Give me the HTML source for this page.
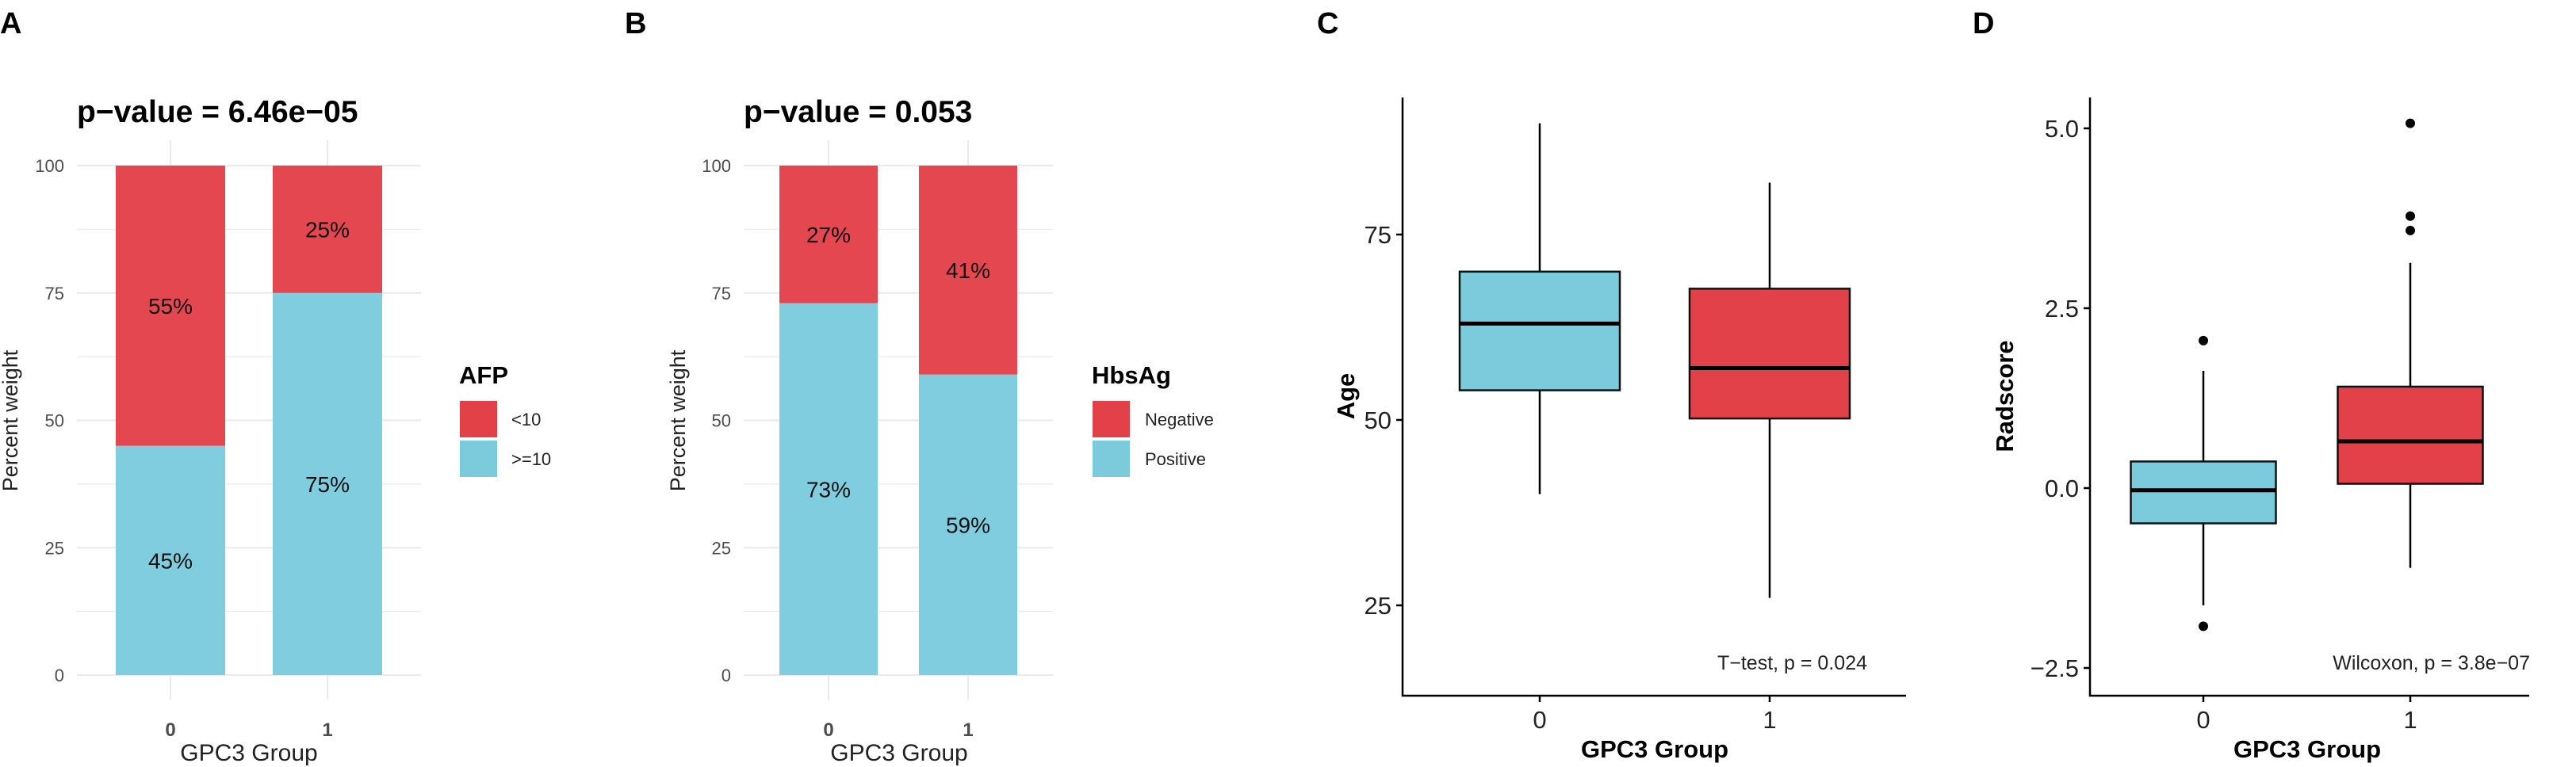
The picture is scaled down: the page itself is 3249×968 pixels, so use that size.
<!DOCTYPE html>
<html><head><meta charset="utf-8"><style>
html,body{margin:0;padding:0;background:#fff;}
svg{display:block;font-family:"Liberation Sans",Arial,sans-serif;}
</style></head><body>
<svg id="fig" width="3249" height="968" viewBox="0 0 3249 968" xmlns="http://www.w3.org/2000/svg">
<g id="root"></g>
</svg>
<script>
// Panel A data
const aCategories = ["0","1"];
const aLow = [55, 25];      // <10
const aHigh = [45, 75];     // >=10
const aLegend = ["<10", ">=10"];
// Panel B data
const bCategories = ["0","1"];
const bNeg = [27, 41];
const bPos = [73, 59];
const bLegend = ["Negative", "Positive"];
const pctTicks = [0, 25, 50, 75, 100];
// Panel C data (box stats: lower whisker, q1, median, q3, upper whisker)
const cCategories = ["0","1"];
const cLowerWhisker = [40, 26];
const cQ1 = [54, 50.2];
const cMedian = [63, 57];
const cQ3 = [70, 67.7];
const cUpperWhisker = [90, 82];
const cTicks = [25, 50, 75];
// Panel D data
const dCategories = ["0","1"];
const dLowerWhisker = [-1.63, -1.11];
const dQ1 = [-0.49, 0.06];
const dMedian = [-0.03, 0.65];
const dQ3 = [0.37, 1.41];
const dUpperWhisker = [1.63, 3.13];
const dOutliers0 = [2.05, -1.92];
const dOutliers1 = [5.07, 3.78, 3.58];
const dTicks = [-2.5, 0.0, 2.5, 5.0];

const RED = "#E3414A", BLUE = "#7BCBDD";
const NS = "http://www.w3.org/2000/svg";
const root = document.getElementById("root");
function el(tag, attrs, parent, text){
  const e = document.createElementNS(NS, tag);
  for (const k in attrs) e.setAttribute(k, attrs[k]);
  if (text !== undefined) e.textContent = text;
  (parent || root).appendChild(e);
  return e;
}

function stackedPanel(o){
  const g = el("g", {});
  
  
  const y = v => o.y0 + (o.y100 - o.y0) * v / 100;
  const x = i => o.centers[i];
  const lbl = el("text", {x:o.labelX, y:42, "font-size":38, "font-weight":"bold"}, g, o.label);
  
  
  const t = el("text", {x:o.gridL, y:154, "font-size":39, "font-weight":"bold"}, g, o.title);
  
  
  // grid
  for (let v = 0; v <= 100; v += 12.5){
    const ln = el("line", {x1:o.gridL, x2:o.gridR, y1:y(v), y2:y(v), stroke:"#ebebeb", "stroke-width": v%25===0?2.2:1.2}, g);
    
    
  }
  o.cats.forEach((c,i)=>{
    const ln = el("line", {x1:x(i), x2:x(i), y1:177, y2:883, stroke:"#ebebeb", "stroke-width":2.2}, g);
    
    
  });
  pctTicks.forEach(v=>{
    const tk = el("text", {x:o.tickR, y:y(v)+8, "font-size":22, fill:"#4d4d4d", "text-anchor":"end"}, g, String(v));
    
    
  });
  o.cats.forEach((c,i)=>{
    const bot = o.bottom[i], top = o.top[i];
    const r1 = el("rect", {x:x(i)-o.bw/2, y:y(bot), width:o.bw, height:y(0)-y(bot), fill:BLUE, "fill-opacity":0.97}, g);
    
    
    const r2 = el("rect", {x:x(i)-o.bw/2, y:y(bot+top), width:o.bw, height:y(bot)-y(bot+top), fill:RED, "fill-opacity":0.97}, g);
    
    
    const l1 = el("text", {x:x(i), y:y(bot/2)+10, "font-size":28, "text-anchor":"middle", fill:"#111"}, g, bot+"%");
    
    
    const l2 = el("text", {x:x(i), y:y(bot+top/2)+10, "font-size":28, "text-anchor":"middle", fill:"#111"}, g, top+"%");
    
    
    const xt = el("text", {x:x(i), y:929, "font-size":24, "font-weight":"bold", fill:"#4d4d4d", "text-anchor":"middle"}, g, c);
    
    
  });
  const xtitle = el("text", {x:o.xTitleX, y:960, "font-size":30, fill:"#222", "text-anchor":"middle"}, g, "GPC3 Group");
  
  
  const ytitle = el("text", {x:0, y:0, "font-size":27, fill:"#222", "text-anchor":"middle", transform:`translate(${o.yTitleX},531) rotate(-90)`}, g, "Percent weight");
  
  
  const lt = el("text", {x:o.legX, y:484, "font-size":31, "font-weight":"bold"}, g, o.legTitle);
  
  
  [RED, BLUE].forEach((col,k)=>{
    const kr = el("rect", {x:o.legX+1, y:506+k*50, width:47, height:46, fill:col}, g);
    
    
    const kt = el("text", {x:o.legLabelX, y:537+k*50, "font-size":22, fill:"#222"}, g, o.legend[k]);
    
    
  });
}

stackedPanel({name:"panel-a", label:"A", labelX:0, title:"p\u2212value = 6.46e\u221205",
  gridL:97, gridR:531, y0:852, y100:209, centers:[215,413], bw:138, cats:aCategories,
  bottom:aHigh, top:aLow, tickR:81, xTitleX:314, yTitleX:22, legX:579, legLabelX:645,
  legTitle:"AFP", legend:aLegend});
stackedPanel({name:"panel-b", label:"B", labelX:788, title:"p\u2212value = 0.053",
  gridL:938, gridR:1328, y0:852, y100:209, centers:[1045,1221], bw:124, cats:bCategories,
  bottom:bPos, top:bNeg, tickR:922, xTitleX:1134, yTitleX:864, legX:1377, legLabelX:1444,
  legTitle:"HbsAg", legend:bLegend});

function boxPanel(o){
  const g = el("g", {});
  
  
  const y = v => o.refY + (v - o.refV) * o.ppu * -1;
  const lbl = el("text", {x:o.labelX, y:42, "font-size":38, "font-weight":"bold"}, g, o.label);
  
  
  const ax = el("path", {d:`M${o.axX},123 V878 H${o.axR}`, fill:"none", stroke:"#000", "stroke-width":2.5}, g);
  
  
  o.ticks.forEach(v=>{
    const tl = el("line", {x1:o.axX-8, x2:o.axX, y1:y(v), y2:y(v), stroke:"#000", "stroke-width":2.5}, g);
    
    
    const tt = el("text", {x:o.axX-14, y:y(v)+11, "font-size":31, fill:"#222", "text-anchor":"end"}, g, o.fmt(v).replace("-", "\u2212"));
    
    
  });
  o.cats.forEach((c,i)=>{
    const cx = o.centers[i], hw = o.bw/2, col = i===0?BLUE:RED;
    const w = el("line", {x1:cx, x2:cx, y1:y(o.lw[i]), y2:y(o.uw[i]), stroke:"#000", "stroke-width":2.5}, g);
    
    
    const b = el("rect", {x:cx-hw, y:y(o.q3[i]), width:o.bw, height:y(o.q1[i])-y(o.q3[i]), fill:col, stroke:"#111", "stroke-width":2.5}, g);
    
    
    const m = el("line", {x1:cx-hw, x2:cx+hw, y1:y(o.med[i]), y2:y(o.med[i]), stroke:"#000", "stroke-width":5}, g);
    
    
    (o.outliers[i]||[]).forEach(v=>{
      const p = el("circle", {cx:cx, cy:y(v), r:6, fill:"#000"}, g);
      
      
    });
    const xt = el("line", {x1:cx, x2:cx, y1:878, y2:886, stroke:"#000", "stroke-width":2.5}, g);
    
    
    const xl = el("text", {x:cx, y:919, "font-size":31, fill:"#222", "text-anchor":"middle"}, g, c);
    
    
  });
  const xtitle = el("text", {x:o.xTitleX, y:956, "font-size":31, "font-weight":"bold", "text-anchor":"middle"}, g, "GPC3 Group");
  
  
  const ytitle = el("text", {x:0, y:0, "font-size":31, "font-weight":"bold", "text-anchor":"middle", transform:`translate(${o.yTitleX},500) rotate(-90)`}, g, o.yTitle);
  
  
  const st = el("text", {x:o.statR, y:845, "font-size":25, fill:"#222", "text-anchor":"end"}, g, o.stat);
  
  
}

boxPanel({name:"panel-c", label:"C", labelX:1661, axX:1769, axR:2404, refY:530, refV:50, ppu:234/25,
  ticks:cTicks, fmt:v=>String(v), cats:cCategories, centers:[1942,2232], bw:202,
  lw:cLowerWhisker, q1:cQ1, med:cMedian, q3:cQ3, uw:cUpperWhisker, outliers:[[],[]],
  xTitleX:2087, yTitleX:1708, yTitle:"Age", statR:2355, stat:"T\u2212test, p = 0.024"});
boxPanel({name:"panel-d", label:"D", labelX:2488, axX:2636, axR:3190, refY:616, refV:0, ppu:227/2.5,
  ticks:dTicks, fmt:v=>v.toFixed(1), cats:dCategories, centers:[2779,3040], bw:183,
  lw:dLowerWhisker, q1:dQ1, med:dMedian, q3:dQ3, uw:dUpperWhisker, outliers:[dOutliers0, dOutliers1],
  xTitleX:2910, yTitleX:2539, yTitle:"Radscore", statR:3191, stat:"Wilcoxon, p = 3.8e\u221207"});
</script>
</body></html>
